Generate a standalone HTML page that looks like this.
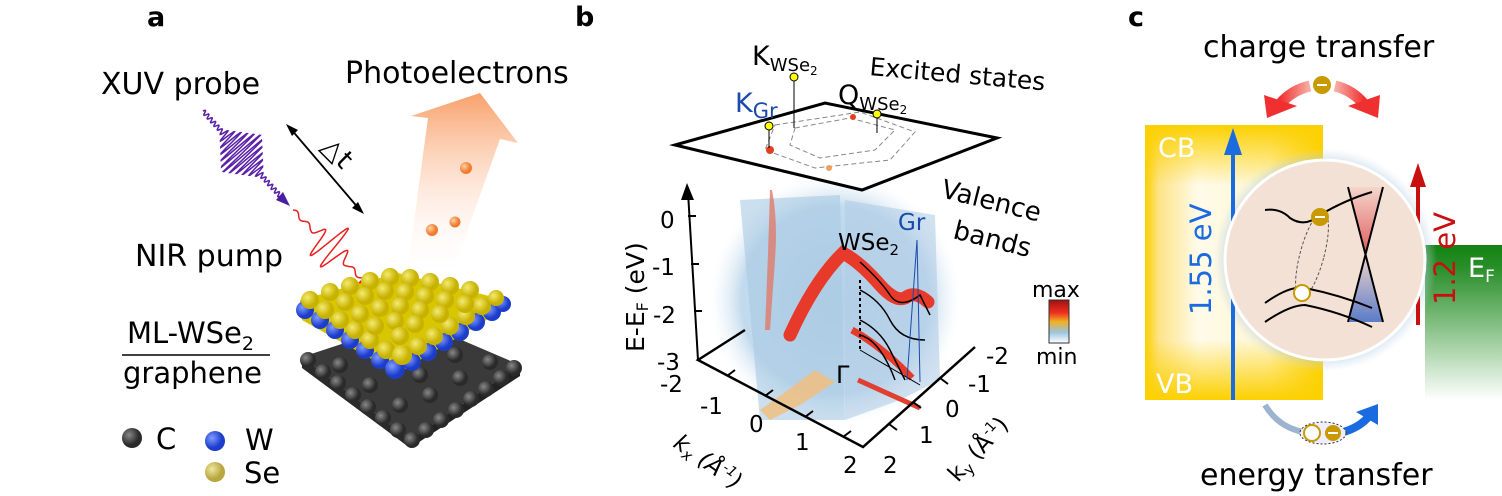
<!DOCTYPE html>
<html><head><meta charset="utf-8"><style>
body{margin:0;background:#fff}
svg{display:block;font-family:"DejaVu Sans","Liberation Sans",sans-serif}
</style></head><body>
<svg id="s" width="1502" height="496" viewBox="0 0 1502 496" xmlns="http://www.w3.org/2000/svg">
<defs>
<linearGradient id="arr" x1="0" y1="1" x2="0" y2="0"><stop offset="0" stop-color="#fff" stop-opacity="0"/><stop offset="1" stop-color="#f9a06a"/></linearGradient>
<linearGradient id="cb" x1="0" y1="0" x2="1" y2="0"><stop offset="0" stop-color="#fcd000"/><stop offset="0.08" stop-color="#fde48a"/><stop offset="0.3" stop-color="#fffbea"/><stop offset="0.7" stop-color="#fff6d0"/><stop offset="1" stop-color="#fcd000"/></linearGradient>
<linearGradient id="cbv" x1="0" y1="0" x2="0" y2="1"><stop offset="0" stop-color="#fcd000" stop-opacity="1"/><stop offset="0.22" stop-color="#fcd000" stop-opacity="0"/><stop offset="0.78" stop-color="#fcd000" stop-opacity="0"/><stop offset="1" stop-color="#fcd000" stop-opacity="1"/></linearGradient>
<linearGradient id="gr" x1="0" y1="0" x2="0" y2="1"><stop offset="0" stop-color="#128212"/><stop offset="0.15" stop-color="#2a8f2a"/><stop offset="0.55" stop-color="#8cc48c"/><stop offset="1" stop-color="#ffffff"/></linearGradient>
<radialGradient id="glow"><stop offset="0.82" stop-color="#9fc0dc"/><stop offset="1" stop-color="#cfe0ee" stop-opacity="0"/></radialGradient>
<radialGradient id="ball" cx="0.35" cy="0.35"><stop offset="0" stop-color="#888"/><stop offset="1" stop-color="#2a2a2a"/></radialGradient>
<radialGradient id="bball" cx="0.35" cy="0.35"><stop offset="0" stop-color="#7f9cff"/><stop offset="1" stop-color="#1c3ccc"/></radialGradient>
<radialGradient id="yball" cx="0.35" cy="0.35"><stop offset="0" stop-color="#f4ea70"/><stop offset="1" stop-color="#c8b200"/></radialGradient>
<radialGradient id="lball" cx="0.35" cy="0.35"><stop offset="0" stop-color="#f0e8a0"/><stop offset="1" stop-color="#b8a640"/></radialGradient>
<radialGradient id="oball" cx="0.35" cy="0.35"><stop offset="0" stop-color="#ffd0a0"/><stop offset="1" stop-color="#f07a30"/></radialGradient>
<radialGradient id="blob" cx="0.5" cy="0.5"><stop offset="0" stop-color="#a6c8e4"/><stop offset="0.75" stop-color="#b8d4ea"/><stop offset="1" stop-color="#e8f1f8" stop-opacity="0"/></radialGradient>
<linearGradient id="cmap" x1="0" y1="0" x2="0" y2="1"><stop offset="0" stop-color="#a01010"/><stop offset="0.3" stop-color="#f03020"/><stop offset="0.5" stop-color="#f0b020"/><stop offset="0.75" stop-color="#9cc4e0"/><stop offset="1" stop-color="#fff"/></linearGradient>
<linearGradient id="tri1" x1="0" y1="0" x2="0" y2="1"><stop offset="0" stop-color="#f4d6cc"/><stop offset="1" stop-color="#e06060"/></linearGradient>
<linearGradient id="tri2" x1="0" y1="0" x2="0" y2="1"><stop offset="0" stop-color="#f4d6cc"/><stop offset="1" stop-color="#5a7cc8"/></linearGradient>
<linearGradient id="ra" x1="0" y1="0" x2="1" y2="0"><stop offset="0" stop-color="#f03030"/><stop offset="1" stop-color="#f8b0a8"/></linearGradient>
<linearGradient id="rb" x1="0" y1="0" x2="1" y2="0"><stop offset="0" stop-color="#f8b0a8"/><stop offset="1" stop-color="#f03030"/></linearGradient>
</defs>

<!-- Panel a -->
<text x="147" y="26" font-size="27" font-weight="bold">a</text>
<polygon points="407,273 428,118 411,116 480,93 518,143 500,139 450,280" fill="url(#arr)"/>
<text x="345" y="83" font-size="30">Photoelectrons</text>
<circle cx="466" cy="168" r="6" fill="url(#oball)"/>
<circle cx="455" cy="222" r="5.5" fill="url(#oball)"/>
<circle cx="432" cy="230" r="6" fill="url(#oball)"/>
<text x="101" y="94" font-size="30">XUV probe</text>
<path id="xuv" stroke="#5a20a8" stroke-width="1.5" fill="none"/>
<polygon points="290,206 276,200 283,192" fill="#4a1ea0"/>
<line x1="290" y1="128" x2="360" y2="210" stroke="#000" stroke-width="1.8"/>
<polygon points="286,124 298,130 292,136" fill="#000"/><polygon points="364,214 352,208 358,202" fill="#000"/>
<text x="320" y="148" font-size="27" transform="rotate(45 320 148)">△t</text>
<text x="135" y="266" font-size="30">NIR pump</text>
<path id="nir" stroke="#e82020" stroke-width="1.5" fill="none"/>
<polygon points="372,289 358,283 365,276" fill="#e82020"/>
<text x="127" y="343" font-size="29">ML-WSe<tspan font-size="19" dy="7">2</tspan></text>
<line x1="122" y1="355" x2="270" y2="355" stroke="#000" stroke-width="1.5"/>
<text x="123" y="383" font-size="29">graphene</text>
<circle cx="132" cy="438" r="10" fill="url(#ball)"/><text x="156" y="449" font-size="29">C</text>
<circle cx="215" cy="441" r="10" fill="url(#bball)"/><text x="245" y="450" font-size="29">W</text>
<circle cx="215" cy="472" r="10" fill="url(#lball)"/><text x="244" y="483" font-size="29">Se</text>
<!-- lattice: graphene -->
<polygon points="302,357 415,320 520,365 410,440" fill="#3a3a3a"/>
<polygon points="302,357 410,440 410,448 302,368" fill="#2a2a2a"/>
<polygon points="410,440 520,365 520,376 410,448" fill="#222"/>
<g fill="url(#ball)">
<circle cx="308" cy="360" r="8"/><circle cx="323" cy="372" r="8"/><circle cx="338" cy="383" r="8"/><circle cx="353" cy="395" r="8"/><circle cx="368" cy="407" r="8"/><circle cx="383" cy="418" r="8"/><circle cx="398" cy="430" r="8"/><circle cx="412" cy="440" r="8"/>
<circle cx="426" cy="430" r="8"/><circle cx="441" cy="420" r="8"/><circle cx="456" cy="410" r="8"/><circle cx="471" cy="399" r="8"/><circle cx="486" cy="389" r="8"/><circle cx="501" cy="378" r="8"/><circle cx="514" cy="368" r="8"/>
<circle cx="340" cy="365" r="8"/><circle cx="370" cy="385" r="8"/><circle cx="400" cy="405" r="8"/><circle cx="430" cy="395" r="8"/><circle cx="460" cy="378" r="8"/><circle cx="490" cy="362" r="8"/><circle cx="380" cy="360" r="8"/><circle cx="420" cy="375" r="8"/><circle cx="455" cy="355" r="8"/>
</g>
<!-- WSe2 -->
<polygon points="302,310 400,276 505,302 405,350 400,375 302,320" fill="#d2c000"/>
<polygon points="300,300 398,273 505,300 503,310 400,372 300,312" fill="#d8c600"/>
<g fill="url(#bball)">
<circle cx="305" cy="310" r="9"/><circle cx="320" cy="320" r="9"/><circle cx="335" cy="330" r="9"/><circle cx="350" cy="340" r="9"/><circle cx="365" cy="350" r="9"/><circle cx="380" cy="360" r="9"/><circle cx="395" cy="369" r="10"/>
<circle cx="412" cy="362" r="9"/><circle cx="428" cy="352" r="9"/><circle cx="444" cy="342" r="9"/><circle cx="460" cy="332" r="9"/><circle cx="476" cy="322" r="9"/><circle cx="492" cy="312" r="9"/><circle cx="503" cy="304" r="8"/>
</g>
<g fill="url(#yball)">
<circle cx="310" cy="300" r="9"/><circle cx="325" cy="310" r="9"/><circle cx="340" cy="320" r="9"/><circle cx="355" cy="330" r="9"/><circle cx="370" cy="340" r="9"/><circle cx="386" cy="350" r="9"/><circle cx="402" cy="355" r="10"/>
<circle cx="418" cy="346" r="9"/><circle cx="434" cy="336" r="9"/><circle cx="450" cy="326" r="9"/><circle cx="466" cy="316" r="9"/><circle cx="482" cy="306" r="9"/><circle cx="496" cy="298" r="8"/>
<circle cx="330" cy="292" r="9"/><circle cx="350" cy="286" r="9"/><circle cx="370" cy="281" r="9"/><circle cx="390" cy="277" r="9"/><circle cx="410" cy="278" r="9"/><circle cx="430" cy="282" r="9"/><circle cx="450" cy="286" r="9"/><circle cx="470" cy="290" r="9"/>
<circle cx="345" cy="302" r="9"/><circle cx="365" cy="296" r="9"/><circle cx="385" cy="291" r="9"/><circle cx="405" cy="292" r="9"/><circle cx="425" cy="296" r="9"/><circle cx="445" cy="300" r="9"/><circle cx="465" cy="304" r="9"/>
<circle cx="360" cy="314" r="9"/><circle cx="380" cy="308" r="9"/><circle cx="400" cy="306" r="9"/><circle cx="420" cy="310" r="9"/><circle cx="440" cy="314" r="9"/>
<circle cx="375" cy="326" r="9"/><circle cx="395" cy="321" r="9"/><circle cx="415" cy="324" r="9"/><circle cx="400" cy="336" r="9"/>
</g>

<!-- Panel b -->
<text x="575" y="26" font-size="27" font-weight="bold">b</text>
<ellipse cx="835" cy="300" rx="125" ry="125" fill="url(#blob)" opacity="0.85"/>
<path d="M740,200 L840,195 L845,420 L760,420 Z" fill="#a9c9e3" opacity="0.6"/>
<path d="M845,200 L935,215 L940,380 L900,400 L845,420 Z" fill="#b0cde6" opacity="0.6"/>
<path d="M772,190 Q778,220 775,260 L770,330 L765,330 Q768,260 770,190 Z" fill="#e07a6a" opacity="0.8"/>
<path d="M790,335 Q815,280 843,253 Q860,262 880,285 Q895,302 905,298 Q915,290 928,302" stroke="#e83a2a" stroke-width="13" fill="none" stroke-linecap="round"/>
<path d="M852,330 Q880,345 912,378" stroke="#e83a2a" stroke-width="7" fill="none"/>
<path d="M858,380 L920,408" stroke="#e04030" stroke-width="5" fill="none"/>
<path d="M760,410 L795,385 L815,370 L835,382 L800,405 L770,420 Z" fill="#f0c080" opacity="0.85"/>
<polygon points="675,145 825,103 997,138 862,190" fill="#fff" stroke="#000" stroke-width="3"/>
<polygon points="795,128 850,118 895,130 875,150 820,158 790,145" fill="none" stroke="#888" stroke-dasharray="5,3"/>
<polygon points="775,125 860,112 915,132 890,160 815,168 765,150" fill="none" stroke="#888" stroke-dasharray="5,3"/>
<circle cx="770" cy="150" r="4" fill="#e04020"/><circle cx="853" cy="117" r="3" fill="#e04020"/><circle cx="829" cy="168" r="3" fill="#f0a060"/>
<line x1="769" y1="148" x2="769" y2="127" stroke="#000"/><circle cx="769" cy="126" r="4" fill="#ff0" stroke="#000"/>
<line x1="794" y1="128" x2="794" y2="78" stroke="#000"/><circle cx="794" cy="77" r="4" fill="#ff0" stroke="#000"/>
<line x1="877" y1="133" x2="877" y2="115" stroke="#000"/><circle cx="877" cy="114" r="4" fill="#ff0" stroke="#000"/>
<text x="752" y="65" font-size="27">K<tspan font-size="18" dy="6">WSe</tspan><tspan font-size="12" dy="4">2</tspan></text>
<text x="735" y="112" font-size="27" fill="#1a4aaa">K<tspan font-size="21" dy="6">Gr</tspan></text>
<text x="838" y="104" font-size="27">Q<tspan font-size="18" dy="6">WSe</tspan><tspan font-size="12" dy="4">2</tspan></text>
<text x="869" y="75" font-size="25" transform="rotate(5 869 75)">Excited states</text>
<line x1="698" y1="360" x2="688" y2="192" stroke="#000" stroke-width="2"/><polygon points="687,183 681,200 694,200" fill="#000"/>
<g stroke="#000" stroke-width="2"><line x1="688" y1="216" x2="696" y2="216"/><line x1="691" y1="264" x2="699" y2="264"/><line x1="694" y1="311" x2="702" y2="311"/></g>
<g stroke="#000" stroke-width="2"><line x1="727" y1="376" x2="735" y2="370"/><line x1="765" y1="396" x2="773" y2="390"/><line x1="805" y1="417" x2="813" y2="411"/><line x1="843" y1="437" x2="851" y2="431"/>
<line x1="940" y1="378" x2="948" y2="384"/><line x1="913" y1="402" x2="921" y2="408"/><line x1="889" y1="424" x2="897" y2="430"/></g>
<polyline points="745,330 698,360 863,447 975,347" fill="none" stroke="#000" stroke-width="2.5"/>
<line x1="860" y1="280" x2="860" y2="350" stroke="#000" stroke-dasharray="3,3" stroke-width="2"/>
<line x1="860" y1="350" x2="920" y2="385" stroke="#000"/>
<path d="M860,262 Q880,280 890,295 T920,295 L930,315 M860,290 Q880,300 890,320 T925,340 M860,320 Q880,330 890,350 L905,380 M860,335 Q880,340 895,380" stroke="#000" fill="none" stroke-width="1.5"/>
<line x1="907" y1="380" x2="917" y2="240" stroke="#1a4aaa"/><line x1="917" y1="240" x2="920" y2="382" stroke="#1a4aaa"/>
<text x="838" y="250" font-size="23">WSe<tspan font-size="15" dy="5">2</tspan></text>
<text x="898" y="230" font-size="23" fill="#1a4aaa">Gr</text>
<text x="940" y="197" font-size="26" transform="rotate(14 940 197)">Valence</text>
<text x="952" y="238" font-size="26" transform="rotate(14 952 238)">bands</text>
<g font-size="23"><text x="660" y="228">0</text><text x="652" y="275">-1</text><text x="653" y="323">-2</text><text x="657" y="370">-3</text>
<text x="660" y="392">-2</text><text x="700" y="414">-1</text><text x="749" y="432">0</text><text x="795" y="450">1</text><text x="843" y="473">2</text>
<text x="986" y="364">-2</text><text x="968" y="392">-1</text><text x="945" y="417">0</text><text x="919" y="443">1</text><text x="883" y="473">2</text></g>
<text x="836" y="383" font-size="24">Γ</text>
<text x="644" y="352" font-size="25" transform="rotate(-90 644 352)">E-E<tspan font-size="16" dy="4">F</tspan><tspan dy="-4"> (eV)</tspan></text>
<text x="672" y="446" font-size="23" font-style="italic" transform="rotate(35 672 446)">k<tspan font-size="15" dy="4">x</tspan><tspan dy="-4"> (Å</tspan><tspan font-size="14" dy="-9">-1</tspan><tspan dy="9">)</tspan></text>
<text x="958" y="483" font-size="23" transform="rotate(-48 958 483)">k<tspan font-size="15" dy="4">y</tspan><tspan dy="-4"> (Å</tspan><tspan font-size="14" dy="-9">-1</tspan><tspan dy="9">)</tspan></text>
<text x="1032" y="297" font-size="22">max</text>
<rect x="1049" y="300" width="20" height="43" fill="url(#cmap)" stroke="#333"/>
<text x="1036" y="364" font-size="22">min</text>

<!-- Panel c -->
<text x="1128" y="26" font-size="27" font-weight="bold">c</text>
<text x="1203" y="57" font-size="30">charge transfer</text>
<path d="M1280,104 Q1292,90 1310,86" stroke="url(#ra)" stroke-width="11" fill="none"/>
<polygon points="1264,95 1267,118 1297,106" fill="#f03030"/>
<path d="M1335,86 Q1352,90 1364,104" stroke="url(#rb)" stroke-width="11" fill="none"/>
<polygon points="1380,95 1378,118 1348,106" fill="#f03030"/>
<circle cx="1322" cy="85" r="9" fill="#c89a00"/><line x1="1317" y1="85" x2="1327" y2="85" stroke="#fff" stroke-width="2"/>
<rect x="1145" y="125" width="178" height="275" fill="url(#cb)"/>
<rect x="1145" y="125" width="178" height="275" fill="url(#cbv)"/>
<rect x="1425" y="245" width="77" height="155" fill="url(#gr)"/>
<text x="1158" y="157" font-size="27" fill="#fff">CB</text>
<text x="1156" y="393" font-size="27" fill="#fff">VB</text>
<text x="1468" y="277" font-size="27" fill="#fff">E<tspan font-size="17" dy="5">F</tspan></text>
<circle cx="1325" cy="260" r="112" fill="url(#glow)" opacity="0.8"/>
<line x1="1233" y1="400" x2="1233" y2="150" stroke="#1a6ae0" stroke-width="4"/><polygon points="1233,128 1224,155 1242,155" fill="#1a6ae0"/>
<text x="1211" y="315" font-size="29" fill="#1a6ae0" transform="rotate(-90 1211 315)">1.55 eV</text>
<line x1="1418" y1="325" x2="1418" y2="180" stroke="#c81010" stroke-width="4"/><polygon points="1418,163 1410,187 1426,187" fill="#c81010"/>
<text x="1455" y="305" font-size="29" fill="#c81010" transform="rotate(-90 1455 305)">1.2 eV</text>
<circle cx="1325" cy="260" r="100" fill="#f3e1d6" stroke="#fff" stroke-width="3"/>
<polygon points="1348,187 1383,187 1366,253" fill="url(#tri1)"/>
<polygon points="1366,253 1348,322 1383,322" fill="url(#tri2)"/>
<path d="M1265,210 Q1280,208 1290,218 Q1305,228 1320,215 Q1345,200 1372,192" stroke="#000" stroke-width="2" fill="none"/>
<path d="M1265,303 Q1290,285 1305,288 Q1340,295 1372,308" stroke="#000" stroke-width="2" fill="none"/>
<path d="M1265,322 Q1290,305 1305,305 Q1340,312 1372,327" stroke="#000" stroke-width="2" fill="none"/>
<path d="M1348,187 L1383,322 M1383,187 L1348,322" stroke="#000" stroke-width="2" fill="none"/>
<ellipse cx="1312" cy="255" rx="12" ry="45" fill="none" stroke="#555" stroke-dasharray="3,2" transform="rotate(15 1312 255)"/>
<circle cx="1320" cy="217" r="9" fill="#c89a00"/><line x1="1315" y1="217" x2="1325" y2="217" stroke="#fff" stroke-width="2"/>
<circle cx="1302" cy="293" r="8" fill="#fff" stroke="#c89a00" stroke-width="2"/>
<path d="M1265,405 Q1280,430 1310,433" stroke="#9db4d0" stroke-width="6" fill="none"/>
<path d="M1340,433 Q1360,428 1370,415" stroke="#1a6ae0" stroke-width="8" fill="none"/><polygon points="1378,404 1356,412 1378,425" fill="#1a6ae0"/>
<ellipse cx="1323" cy="433" rx="23" ry="11" fill="#eef" stroke="#333" stroke-dasharray="2,2"/>
<circle cx="1312" cy="433" r="8" fill="#fff" stroke="#c89a00" stroke-width="2"/>
<circle cx="1333" cy="433" r="8" fill="#c89a00"/><line x1="1328" y1="433" x2="1338" y2="433" stroke="#fff" stroke-width="2"/>
<text x="1200" y="485" font-size="30">energy transfer</text>
</svg>
<script>
function wave(id,x0,y0,x1,y1,cx,cy,amp,wl,half,diamond){
  var dx=x1-x0,dy=y1-y0,L=Math.hypot(dx,dy),ux=dx/L,uy=dy/L,nx=uy,ny=-ux;
  var tc=(cx-x0)*ux+(cy-y0)*uy,d="";
  for(var t=0;t<=L;t+=0.5){
    var r=Math.abs(t-tc)/half,env=diamond?Math.max(0,1-r):Math.exp(-r*r*2);
    env=Math.max(env,0.08);
    var a=amp*env*Math.sin(2*Math.PI*t/wl);
    var x=x0+ux*t+nx*a,y=y0+uy*t+ny*a;
    d+=(t==0?"M":"L")+x.toFixed(1)+","+y.toFixed(1);
  }
  document.getElementById(id).setAttribute("d",d);
}
wave("xuv",203,111,282,198,242,153,28,5,32,true);
wave("nir",293,210,364,281,330,247,26,16,22,false);
</script>
</body></html>
